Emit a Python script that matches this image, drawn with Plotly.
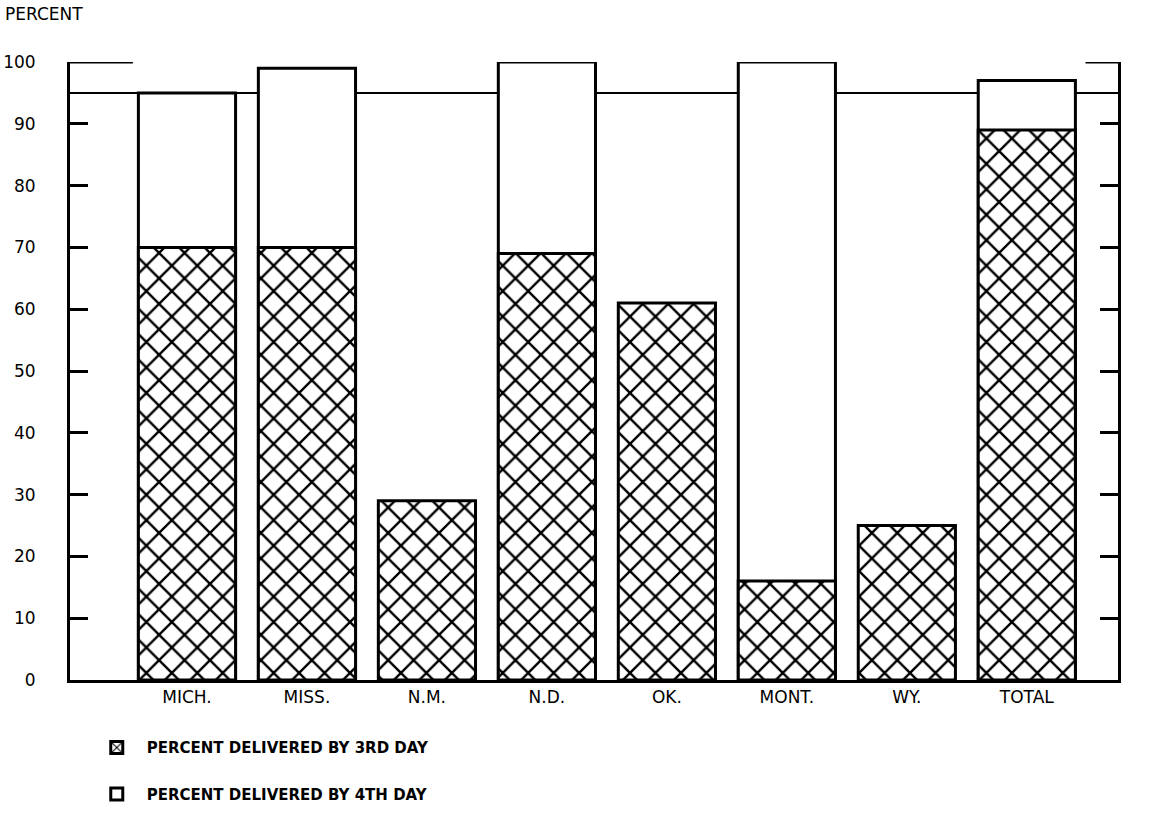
import plotly.graph_objects as go

categories = ["MICH.", "MISS.", "N.M.", "N.D.", "OK.", "MONT.", "WY.", "TOTAL"]
by_3rd_day = [70, 70, 29, 69, 61, 16, 25, 89]
by_4th_day = [95, 99, None, 100, None, 100, None, 97]
standard_pct = 95
y_ticks = [0, 10, 20, 30, 40, 50, 60, 70, 80, 90, 100]

FONT = "DejaVu Sans"

fig = go.Figure()
fig.add_trace(go.Bar(
    x=categories, y=by_4th_day, name="PERCENT DELIVERED BY 4TH DAY",
    marker=dict(color="white", line=dict(color="black", width=3)),
    width=0.81, legendrank=2, legendgroup="b",
))
fig.add_trace(go.Bar(
    x=categories, y=by_3rd_day, name="PERCENT DELIVERED BY 3RD DAY",
    marker=dict(color="white", line=dict(color="black", width=3),
                pattern=dict(shape="x", fgcolor="black", bgcolor="white",
                             fgopacity=1, fillmode="replace",
                             size=18, solidity=0.25)),
    width=0.81, legendrank=1, legendgroup="a",
))

fig.add_hline(y=standard_pct, line=dict(color="black", width=2), layer="below")
fig.add_shape(type="line", xref="x domain", yref="y", x0=0, x1=0.06,
              y0=100, y1=100, line=dict(color="black", width=3))
fig.add_shape(type="line", xref="x domain", yref="y", x0=0.969, x1=1,
              y0=100, y1=100, line=dict(color="black", width=3))

fig.add_annotation(text="PERCENT", xref="paper", yref="paper", x=-0.064, y=1.097,
                   xanchor="left", yanchor="top", showarrow=False,
                   font=dict(family=FONT, size=17, color="black"))

fig.update_layout(
    width=1152, height=818,
    margin=dict(l=70, r=34, t=62, b=138, autoexpand=False),
    plot_bgcolor="white", paper_bgcolor="white",
    barmode="overlay", bargap=0.19,
    font=dict(family=FONT, color="black"),
    showlegend=True,
    legend=dict(x=0.016, y=-0.083, xanchor="left", yanchor="top",
                orientation="v", tracegroupgap=24,
                font=dict(family=FONT, size=15, color="black", weight="bold"),
                itemwidth=50, bgcolor="rgba(0,0,0,0)"),
)
fig.update_xaxes(range=[-0.975, 7.76], showline=True, linecolor="black", linewidth=3,
                 ticks="", showgrid=False, automargin=False,
                 tickfont=dict(family=FONT, size=17, color="black"),
                 fixedrange=True)
fig.update_yaxes(range=[0, 100], tickvals=y_ticks, showline=True, mirror="ticks",
                 linecolor="black", linewidth=3, ticks="inside", ticklen=18, tickwidth=3,
                 tickcolor="black", showgrid=False, zeroline=False, automargin=False,
                 ticklabelstandoff=28,
                 tickfont=dict(family=FONT, size=17, color="black"))

fig.write_html("out.html", config={"displayModeBar": False},
               post_script="document.body.style.margin='0';document.body.style.overflow='hidden';")
